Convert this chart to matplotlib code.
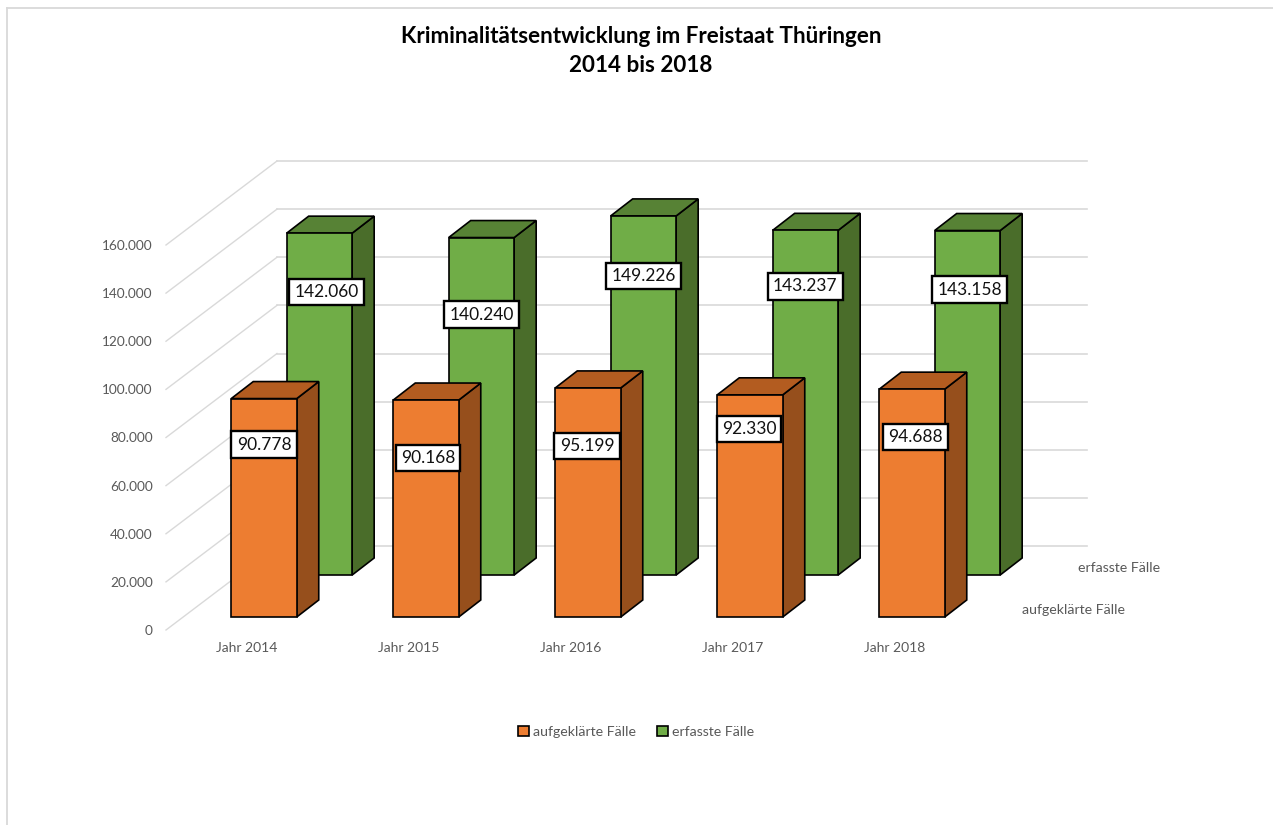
import matplotlib
matplotlib.use('Agg')
import matplotlib.pyplot as plt
from matplotlib.lines import Line2D
from matplotlib.patches import Patch, Polygon
from matplotlib.ticker import FuncFormatter

plt.rcParams['font.family'] = ['Lato', 'DejaVu Sans']

# Daten
jahre = ["Jahr 2014", "Jahr 2015", "Jahr 2016", "Jahr 2017", "Jahr 2018"]
aufgeklaert = [90778, 90168, 95199, 92330, 94688]
erfasst = [142060, 140240, 149226, 143237, 143158]
y_ticks = [0, 20000, 40000, 60000, 80000, 100000, 120000, 140000, 160000]

W, H = 1273, 825
X_UNIT = 162.0          # px je Kategorie
Y_UNIT = 385.0 / 160000 # px je Fall

GRID = '#d9d9d9'
TEXT = '#595959'
ORANGE = ('#ED7D31', '#B35C20', '#964F1C')
GREEN = ('#70AD47', '#578235', '#4A6D2A')


def fmt(v):
    return f"{v:,.0f}".replace(",", ".")


fig = plt.figure(figsize=(W / 100, H / 100), dpi=100)
ax = fig.add_axes([166 / W, (H - 630) / H, 810 / W, 385 / H])
ax.set_xlim(-0.5, 4.5)
ax.set_ylim(0, 160000)
for s in ax.spines.values():
    s.set_visible(False)

# Rahmen oben und links
fig.add_artist(Line2D([7 / W, 7 / W], [0, 1 - 8 / H], color=GRID, lw=1.3))
fig.add_artist(Line2D([7 / W, 1], [1 - 8 / H, 1 - 8 / H], color=GRID, lw=1.3))

# Raster: Rueckwand und Seitenwand
wall_dx = 111 / X_UNIT
wall_dy = 84 / Y_UNIT
for t in y_ticks:
    ax.plot([-0.5, -0.5 + wall_dx], [t, t + wall_dy], color=GRID, lw=1.0,
            clip_on=False, zorder=1)
    ax.plot([-0.5 + wall_dx, 4.5 + wall_dx], [t + wall_dy, t + wall_dy],
            color=GRID, lw=1.2, clip_on=False, zorder=1)

bar_w = 65.5 / X_UNIT
depth_x = 22 / X_UNIT
depth_y = 17 / Y_UNIT


def draw_series(values, x_off, base, colors, z):
    xs = [i + x_off for i in range(len(values))]
    ax.bar(xs, values, bar_w, bottom=base, color=colors[0], edgecolor='black',
           lw=1.2, clip_on=False, zorder=z + 1)
    for x, v in zip(xs, values):
        l, r = x - bar_w / 2, x + bar_w / 2
        top = base + v
        ax.add_patch(Polygon([(r, base), (r + depth_x, base + depth_y),
                              (r + depth_x, top + depth_y), (r, top)],
                             fc=colors[2], ec='black', lw=1.2, clip_on=False, zorder=z))
        ax.add_patch(Polygon([(l, top), (l + depth_x, top + depth_y),
                              (r + depth_x, top + depth_y), (r, top)],
                             fc=colors[1], ec='black', lw=1.2, clip_on=False, zorder=z))
    return xs


green_xs = draw_series(erfasst, 0.447, 55 / Y_UNIT, GREEN, 3)
orange_xs = draw_series(aufgeklaert, 0.105, 13 / Y_UNIT, ORANGE, 6)

# Datenbeschriftungen, Versatz zur Balkenoberkante in px
green_dx = [7, 0, 0, 0, 2.5]
green_dy = [59, 77, 60, 56, 59]
orange_dx = [0, 2, -1, -1, 3.5]
orange_dy = [46, 58, 58, 34, 48]


def draw_labels(xs, values, base, dxs, dys):
    for x, v, dx, dy in zip(xs, values, dxs, dys):
        ax.annotate(fmt(v), xy=(x, base + v), xytext=(dx, -dy), textcoords='offset pixels',
                    ha='center', va='center', fontsize=12.5, color='#111111', zorder=10,
                    annotation_clip=False,
                    bbox=dict(boxstyle='square,pad=0.3', fc='white', ec='black', lw=1.7))


draw_labels(green_xs, erfasst, 55 / Y_UNIT, green_dx, green_dy)
draw_labels(orange_xs, aufgeklaert, 13 / Y_UNIT, orange_dx, orange_dy)

# Achsen
ax.set_yticks(y_ticks)
ax.yaxis.set_major_formatter(FuncFormatter(lambda v, p: fmt(v)))
ax.set_xticks(range(len(jahre)))
ax.set_xticklabels(jahre)
ax.tick_params(axis='y', length=0, pad=9.5, labelsize=9.8, labelcolor=TEXT)
ax.tick_params(axis='x', length=0, pad=9, labelsize=10, labelcolor=TEXT)

# Serienachse
ax.text(1078 / W, 1 - 568 / H, "erfasste Fälle", transform=fig.transFigure, fontsize=10.2,
        color=TEXT, ha='left', va='center')
ax.text(1022 / W, 1 - 610 / H, "aufgeklärte Fälle", transform=fig.transFigure, fontsize=10.2,
        color=TEXT, ha='left', va='center')

handles = [Patch(fc=ORANGE[0], ec='black', lw=1.2, label="aufgeklärte Fälle"),
           Patch(fc=GREEN[0], ec='black', lw=1.2, label="erfasste Fälle")]
fig.legend(handles=handles, ncols=2, loc='center', bbox_to_anchor=(636 / W, 1 - 732 / H),
           frameon=False, fontsize=10.2, labelcolor=TEXT, handlelength=0.75, handleheight=0.75,
           handletextpad=0.3, columnspacing=1.5)

fig.text(641 / W, 1 - 51 / H, "Kriminalitätsentwicklung im Freistaat Thüringen\n2014 bis 2018",
         ha='center', va='center', fontsize=16.2, fontweight='bold', color='black', linespacing=1.44)

plt.savefig("out.png", dpi=100)
plt.close()
